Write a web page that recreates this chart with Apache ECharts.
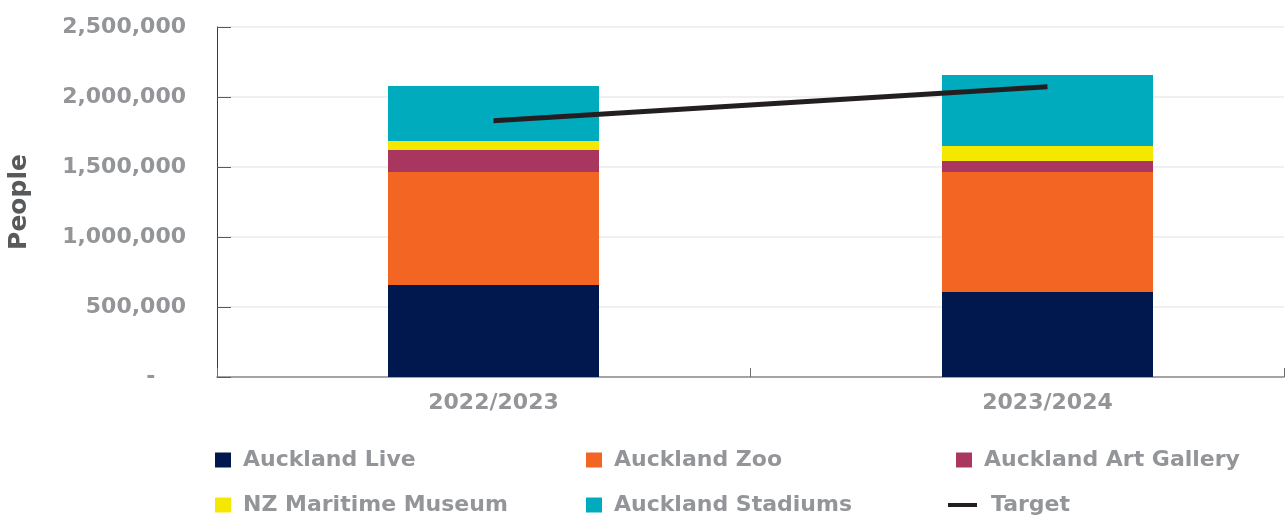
<!DOCTYPE html>
<html><head><meta charset="utf-8">
<script src="https://cdn.jsdelivr.net/npm/echarts@6/dist/echarts.min.js"></script>
<style>html,body{margin:0;padding:0;background:#fff}#c{width:1286px;height:520px}</style>
</head><body><div id="c"></div>
<script>
const categories = ['2022/2023', '2023/2024'];
const aucklandLive = [657000, 607000];
const aucklandZoo = [807000, 857000];
const aucklandArtGallery = [157000, 79000];
const nzMaritimeMuseum = [64000, 107000];
const aucklandStadiums = [393000, 507000];
const target = [1830000, 2074000];
const yMin = 0, yMax = 2500000, yStep = 500000;

const FONT = 'DejaVu Sans';
const GRAY = '#939598';

const barSeries = [
  ['Auckland Live', aucklandLive, '#00184e'],
  ['Auckland Zoo', aucklandZoo, '#f26522'],
  ['Auckland Art Gallery', aucklandArtGallery, '#a8365f'],
  ['NZ Maritime Museum', nzMaritimeMuseum, '#f5e800'],
  ['Auckland Stadiums', aucklandStadiums, '#00abbe']
];

function fmt(v) {
  if (v === 0) return '-    ';
  return String(v).replace(/\B(?=(\d{3})+(?!\d))/g, ',');
}

const series = barSeries.map(([name, data, color]) => ({
  name, type: 'bar', stack: 'total', data,
  xAxisIndex: 1, yAxisIndex: 1,
  barWidth: 211,
  itemStyle: { color },
  emphasis: { disabled: true }
}));
series.push({
  name: 'Target', type: 'line', data: target,
  xAxisIndex: 1, yAxisIndex: 1,
  symbol: 'none', showSymbol: false, z: 10,
  lineStyle: { color: '#231f20', width: 5 },
  itemStyle: { color: '#231f20' }
});

const legendPos = [
  ['Auckland Live', 215, 449, 'rect', 16, 15],
  ['Auckland Zoo', 586, 449, 'rect', 16, 15],
  ['Auckland Art Gallery', 956, 449, 'rect', 16, 15],
  ['NZ Maritime Museum', 215, 494, 'rect', 16, 15],
  ['Auckland Stadiums', 586, 494, 'rect', 16, 15],
  ['Target', 948, 494, 'rect', 29, 4]
];
const legends = legendPos.map(([name, left, top, icon, w, h]) => ({
  data: [{ name, icon }],
  left, top, itemWidth: w, itemHeight: h, padding: 0,
  selectedMode: false,
  textStyle: { color: GRAY, fontFamily: FONT, fontWeight: 'bold', fontSize: 22, padding: [0, 0, 0, name === 'Target' ? 9 : 7] }
}));

const chart = echarts.init(document.getElementById('c'), null, { renderer: 'canvas' });
chart.setOption({
  animation: false,
  backgroundColor: '#fff',
  legend: legends,
  grid: [
    { left: 217, top: 27, width: 1067, height: 350, outerBoundsMode: 'none', containLabel: false },
    { left: 216.5, top: 27, width: 1108, height: 350, outerBoundsMode: 'none', containLabel: false }
  ],
  xAxis: [
    {
      type: 'category', gridIndex: 0, data: categories, boundaryGap: true,
      axisLine: { show: true, lineStyle: { color: '#8a8a8a', width: 1.5 } },
      axisTick: { show: true, inside: true, length: 9, lineStyle: { color: '#6d6d6d' } },
      axisLabel: { show: false }
    },
    {
      type: 'category', gridIndex: 1, data: categories, boundaryGap: true,
      axisLine: { show: false }, axisTick: { show: false },
      axisLabel: { show: true, margin: 15, color: GRAY, fontFamily: FONT, fontWeight: 'bold', fontSize: 22 }
    }
  ],
  yAxis: [
    {
      type: 'value', gridIndex: 0, min: yMin, max: yMax, interval: yStep,
      name: 'People', nameLocation: 'middle', nameGap: 185,
      nameTextStyle: { color: '#58595b', fontFamily: FONT, fontWeight: 'bold', fontSize: 25 },
      axisLine: { show: true, lineStyle: { color: '#3c3c3c', width: 1 } },
      axisTick: { show: true, inside: true, length: 14, lineStyle: { color: '#5a5a5a' } },
      axisLabel: { margin: 31, color: GRAY, fontFamily: FONT, fontWeight: 'bold', fontSize: 22, formatter: fmt },
      splitLine: { show: true, lineStyle: { color: '#ebebeb', width: 1.5 } }
    },
    {
      type: 'value', gridIndex: 1, min: yMin, max: yMax, interval: yStep,
      axisLine: { show: false }, axisTick: { show: false }, axisLabel: { show: false }, splitLine: { show: false }
    }
  ],
  series
});
</script>
</body></html>
